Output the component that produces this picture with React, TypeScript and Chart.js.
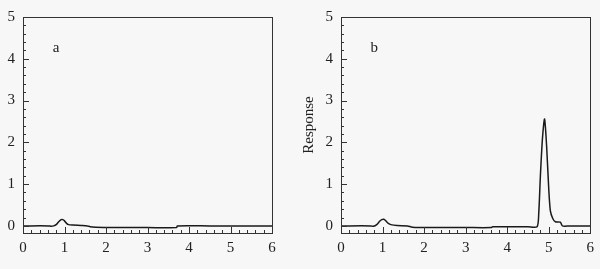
import React, { useEffect, useRef } from "react";
import { Chart, registerables } from "chart.js";

Chart.register(...registerables);

// Chromatogram a
const xA = [0, 0.62, 0.68, 0.74, 0.8, 0.86, 0.92, 0.96, 1.0, 1.05, 1.1, 1.2, 1.4, 1.55, 1.62, 1.75, 2.1, 3.0, 3.7, 3.72, 4.5, 6];
const yA = [0, 0, -0.01, 0.0, 0.03, 0.1, 0.15, 0.15, 0.12, 0.06, 0.03, 0.02, 0.01, 0.0, -0.02, -0.03, -0.04, -0.04, -0.04, 0, 0, 0];

// Chromatogram b
const xB = [0, 0.72, 0.78, 0.86, 0.93, 0.98, 1.03, 1.08, 1.14, 1.2, 1.35, 1.6, 1.72, 2.2, 3.0, 3.62, 3.65, 4.5, 4.72, 4.76, 4.8, 4.85, 4.9, 4.95, 5.0, 5.04, 5.1, 5.16, 5.28, 5.33, 5.5, 6];
const yB = [0, 0, -0.01, 0.03, 0.11, 0.15, 0.16, 0.12, 0.06, 0.03, 0.01, 0.0, -0.03, -0.04, -0.04, -0.04, -0.02, -0.02, -0.02, 0.3, 1.2, 2.1, 2.56, 1.9, 0.9, 0.36, 0.17, 0.1, 0.09, 0.0, 0, 0];

const xTicks = [0, 1, 2, 3, 4, 5, 6];
const yTicks = [0, 1, 2, 3, 4, 5];
const panelLabels = ["a", "b"];
const panelLabelX = 0.8;
const panelLabelY = 4.25;

const FONT = "'Liberation Serif', 'Times New Roman', serif";
const INK = "#222";

function makeBoxPlugin(label: string) {
  return {
    id: "boxTicks",
    afterDatasetsDraw(chart: any) {
      const { ctx, chartArea: a, scales } = chart;
      const xs = scales.x;
      const ys = scales.y;
      ctx.save();
      ctx.strokeStyle = "#333";
      ctx.lineWidth = 1;
      ctx.strokeRect(Math.round(a.left) + 0.5, Math.round(a.top) + 0.5, Math.round(a.right - a.left), Math.round(a.bottom - a.top));
      ctx.beginPath();
      for (let i = 0; i <= 30; i++) {
        const v = i * 0.2;
        const px = Math.round(xs.getPixelForValue(v)) + 0.5;
        const len = i % 5 === 0 ? 6 : 3;
        ctx.moveTo(px, a.bottom);
        ctx.lineTo(px, a.bottom - len);
      }
      for (let i = 0; i <= 25; i++) {
        const v = i * 0.2;
        const py = Math.round(ys.getPixelForValue(v)) + 0.5;
        const len = i % 5 === 0 ? 6 : 3;
        ctx.moveTo(a.left, py);
        ctx.lineTo(a.left + len, py);
      }
      ctx.stroke();
      ctx.fillStyle = INK;
      ctx.font = `15px ${FONT}`;
      ctx.textAlign = "center";
      ctx.textBaseline = "middle";
      ctx.fillText(label, xs.getPixelForValue(panelLabelX), ys.getPixelForValue(panelLabelY));
      ctx.restore();
    },
  };
}

function Panel({ xs, ys, label, yAxisWidth, padRight, showTitle }: any) {
  const ref = useRef<HTMLCanvasElement>(null);
  useEffect(() => {
    if (!ref.current) return;
    const data = xs.map((x: number, i: number) => ({ x, y: ys[i] }));
    const chart = new Chart(ref.current, {
      type: "scatter",
      data: {
        datasets: [
          {
            data,
            showLine: true,
            borderColor: "#1a1a1a",
            borderWidth: 1.5,
            pointRadius: 0,
            tension: 0.25,
          },
        ],
      },
      options: {
        animation: false,
        responsive: false,
        layout: { padding: { left: 0, right: padRight, top: 16, bottom: 0 } },
        plugins: { legend: { display: false }, tooltip: { enabled: false } },
        scales: {
          x: {
            type: "linear",
            min: 0,
            max: 6,
            afterBuildTicks: (s: any) => {
              s.ticks = xTicks.map((v) => ({ value: v }));
            },
            afterFit: (s: any) => {
              s.height = 36;
            },
            grid: { display: false, drawTicks: false },
            border: { display: false },
            ticks: { color: INK, font: { family: FONT, size: 15 }, padding: 6, maxRotation: 0 },
          },
          y: {
            type: "linear",
            min: -0.17,
            max: 5,
            afterBuildTicks: (s: any) => {
              s.ticks = yTicks.map((v) => ({ value: v }));
            },
            afterFit: (s: any) => {
              s.width = yAxisWidth;
            },
            grid: { display: false, drawTicks: false },
            border: { display: false },
            ticks: { color: INK, font: { family: FONT, size: 15 }, padding: 8 },
            title: {
              display: showTitle,
              text: "Response",
              color: INK,
              font: { family: FONT, size: 15 },
              padding: 0,
            },
          },
        },
      },
      plugins: [makeBoxPlugin(label)],
    } as any);
    return () => chart.destroy();
  }, []);
  return <canvas ref={ref} width={300} height={269} style={{ width: 300, height: 269, display: "block" }} />;
}

export default function App() {
  return (
    <div
      style={{
        position: "absolute",
        left: 0,
        top: 0,
        width: 600,
        height: 269,
        background: "#f7f7f7",
        display: "flex",
      }}
    >
      <Panel xs={xA} ys={yA} label={panelLabels[0]} yAxisWidth={23} padRight={28} showTitle={false} />
      <Panel xs={xB} ys={yB} label={panelLabels[1]} yAxisWidth={41} padRight={8} showTitle={true} />
    </div>
  );
}
